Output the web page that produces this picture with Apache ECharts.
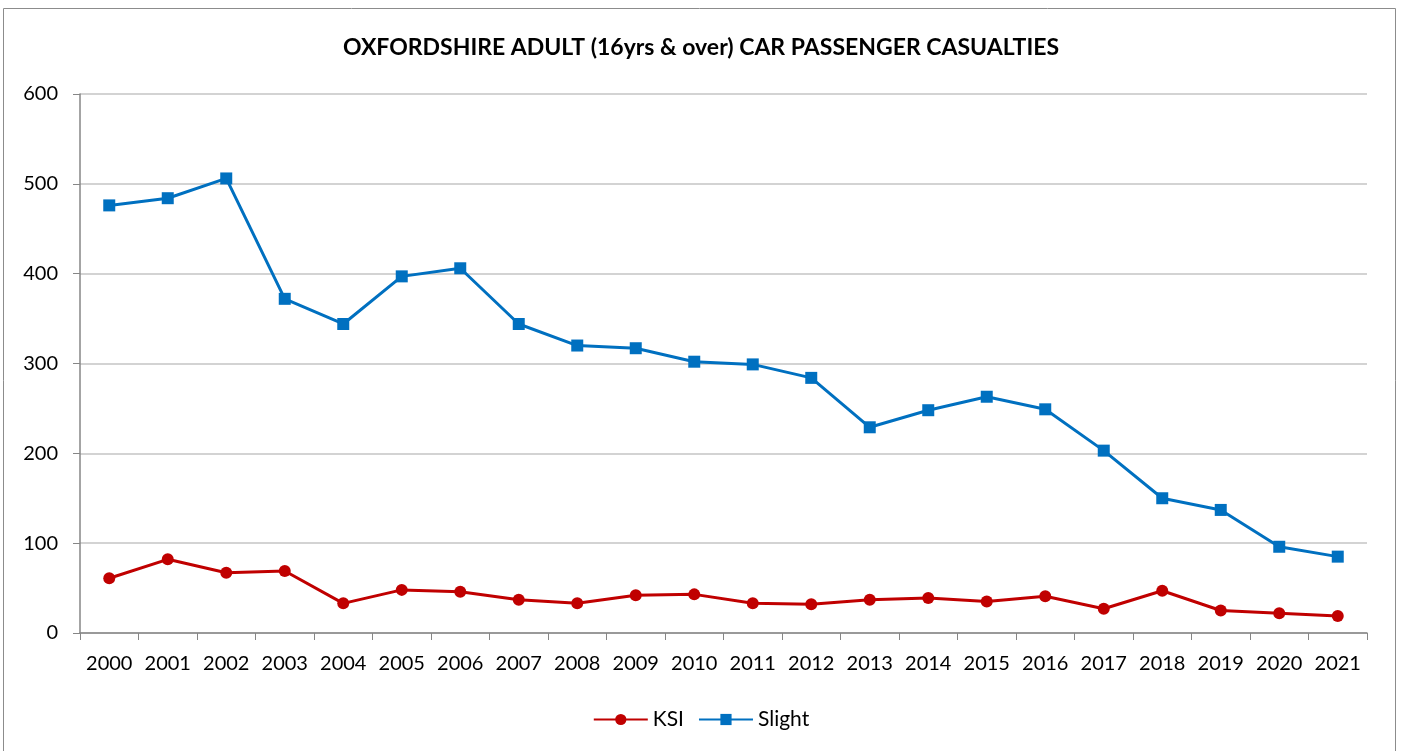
<!DOCTYPE html>
<html>
<head>
<meta charset="utf-8">
<script src="https://cdn.jsdelivr.net/npm/echarts@6/dist/echarts.min.js"></script>
<style>
    html, body { margin: 0; padding: 0; background: #fff; }
    #chart { width: 1402px; height: 751px; }
</style>
</head>
<body>
<div id="chart"></div>
<script>
const years = ['2000', '2001', '2002', '2003', '2004', '2005', '2006', '2007', '2008', '2009', '2010',
    '2011', '2012', '2013', '2014', '2015', '2016', '2017', '2018', '2019', '2020', '2021'];
const ksi = [61, 82, 67, 69, 33, 48, 46, 37, 33, 42, 43, 33, 32, 37, 39, 35, 41, 27, 47, 25, 22, 19];
const slight = [476, 484, 506, 372, 344, 397, 406, 344, 320, 317, 302, 299, 284, 229, 248, 263, 249, 203, 150, 137, 96, 85];
const yTicks = [0, 100, 200, 300, 400, 500, 600];

const font = 'Lato, "Open Sans", sans-serif';
const myChart = echarts.init(document.getElementById('chart'));

myChart.setOption({
    animation: false,
    textStyle: { fontFamily: font },
    title: {
        text: 'OXFORDSHIRE ADULT (16yrs & over) CAR PASSENGER CASUALTIES',
        left: 'center',
        top: 31,
        textStyle: { fontSize: 23, fontWeight: 'bold', color: '#000', fontFamily: font },
    },
    graphic: [{
        type: 'rect',
        shape: { x: 3.5, y: 8.5, width: 1392, height: 760 },
        style: { fill: 'none', stroke: '#8c8c8c', lineWidth: 1 },
        silent: true,
    }],
    legend: {
        bottom: 16,
        left: 'center',
        itemWidth: 54,
        itemHeight: 14,
        itemGap: 14,
        textStyle: { fontSize: 21, color: '#000', fontFamily: font },
        data: ['KSI', 'Slight'],
    },
    grid: { left: 80, right: 35, top: 94, bottom: 118 },
    xAxis: {
        type: 'category',
        data: years,
        boundaryGap: true,
        axisLine: { lineStyle: { color: '#868686', width: 1.5 } },
        axisTick: { show: true, length: 7, interval: 0, lineStyle: { color: '#868686' } },
        axisLabel: { fontSize: 20, color: '#000', margin: 21, interval: 0 },
    },
    yAxis: {
        type: 'value',
        min: yTicks[0],
        max: yTicks[yTicks.length - 1],
        interval: 100,
        axisLine: { show: true, lineStyle: { color: '#868686', width: 1.5 } },
        axisTick: { show: true, length: 7, lineStyle: { color: '#868686' } },
        axisLabel: { fontSize: 20, color: '#000', margin: 22 },
        splitLine: { lineStyle: { color: '#c4c4c4', width: 1.5 } },
    },
    series: [
        {
            name: 'KSI',
            type: 'line',
            data: ksi,
            symbol: 'circle',
            symbolSize: 12,
            color: '#c00000',
            lineStyle: { width: 3, color: '#c00000' },
            itemStyle: { color: '#c00000' },
        },
        {
            name: 'Slight',
            type: 'line',
            data: slight,
            symbol: 'rect',
            symbolSize: 12,
            color: '#0070c0',
            lineStyle: { width: 3, color: '#0070c0' },
            itemStyle: { color: '#0070c0' },
        },
    ],
});
</script>
</body>
</html>
